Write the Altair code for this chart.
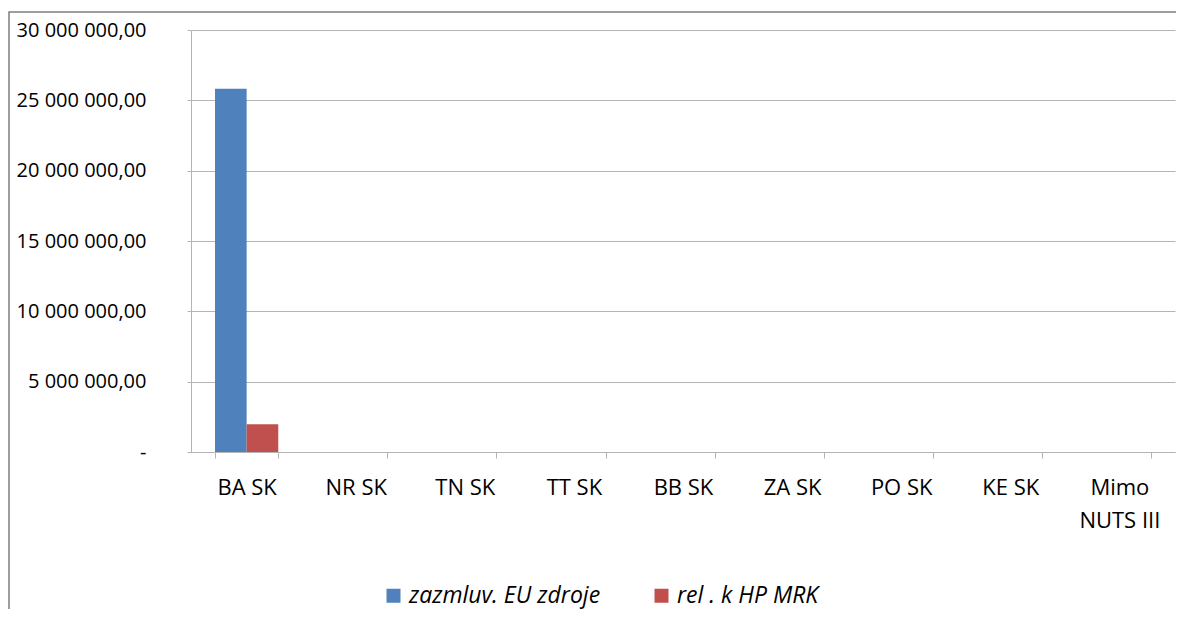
import altair as alt
import pandas as pd

categories = ["BA SK", "NR SK", "TN SK", "TT SK", "BB SK", "ZA SK", "PO SK", "KE SK", "Mimo NUTS III"]
series_names = ["zazmluv. EU zdroje", "rel . k HP MRK"]
eu_zdroje = [25820000, 0, 0, 0, 0, 0, 0, 0, 0]
rel_hp_mrk = [1980000, 0, 0, 0, 0, 0, 0, 0, 0]
y_ticks = [0, 5000000, 10000000, 15000000, 20000000, 25000000, 30000000]
colors = ["#4F81BD", "#C0504D"]

rows = []
for c, a, b in zip(categories, eu_zdroje, rel_hp_mrk):
    rows.append({"kraj": c, "serie": series_names[0], "hodnota": a})
    rows.append({"kraj": c, "serie": series_names[1], "hodnota": b})
df = pd.DataFrame(rows)

FONT = "Open Sans"
GRID = "#b4b4b4"

bars = alt.Chart(df).mark_bar().encode(
    x=alt.X("kraj:N", sort=categories, title=None,
            scale=alt.Scale(paddingInner=0.42, paddingOuter=0.22),
            axis=alt.Axis(labelAngle=0, tickBand="extent", tickSize=6, tickColor=GRID,
                          domainColor=GRID, labelPadding=19, labelFontSize=22,
                          labelFont=FONT, labelColor="#000000", labelLineHeight=33,
                          labelExpr="datum.label == 'Mimo NUTS III' ? ['Mimo', 'NUTS III'] : datum.label")),
    xOffset=alt.XOffset("serie:N", sort=series_names),
    y=alt.Y("hodnota:Q", title=None,
            scale=alt.Scale(domain=[0, 30000000], nice=False),
            axis=alt.Axis(values=y_ticks, tickSize=4, tickColor=GRID, domainColor=GRID,
                          gridColor=GRID, labelPadding=41, labelFontSize=20, labelFont=FONT,
                          labelColor="#000000",
                          labelExpr="datum.value == 0 ? '-' : replace(replace(format(datum.value, ',.2f'), regexp(',', 'g'), ' '), '.', ',')")),
    color=alt.Color("serie:N", sort=series_names,
                    scale=alt.Scale(domain=series_names, range=colors),
                    legend=alt.Legend(title=None, orient="none", direction="horizontal",
                                      legendX=191, legendY=554, symbolType="square",
                                      symbolSize=196, symbolStrokeWidth=0, labelFontSize=23,
                                      labelFont=FONT, labelFontStyle="italic", labelOffset=4,
                                      labelLimit=600, columnPadding=49, labelColor="#000000")),
)

frame = alt.Chart(pd.DataFrame({"f": [0]})).mark_rect(
    fill=None, stroke="#7f7f7f", strokeWidth=1.5
).encode(
    x=alt.value(-182), x2=alt.value(1100), y=alt.value(-18), y2=alt.value(700)
)

chart = alt.layer(frame, bars).properties(
    width=984, height=422,
    autosize=alt.AutoSizeParams(type="none"),
    padding={"left": 183, "top": 22, "right": 1, "bottom": 157},
).configure_view(stroke=None)

chart.save("out.html", embed_options={"renderer": "svg", "actions": False})
